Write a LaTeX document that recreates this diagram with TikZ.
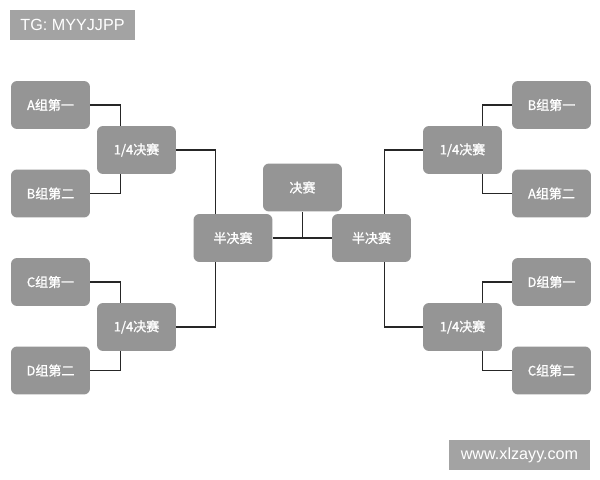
\documentclass[tikz,border=0pt]{standalone}
\usepackage{fontspec}
\setmainfont{Liberation Sans}
\newfontfamily\cjk[FakeBold=1.2]{Noto Sans CJK SC}
\usetikzlibrary{calc,positioning}
\definecolor{boxgray}{HTML}{959595}
\definecolor{taggray}{HTML}{A3A3A3}

\begin{document}
\begin{tikzpicture}[x=0.02cm,y=-0.02cm,
    team/.style={fill=boxgray,rounded corners=0.12cm,minimum width=1.58cm,minimum height=0.96cm,inner sep=0pt,text=white,font=\cjk\fontsize{7.4}{9}\selectfont},
    tag/.style={fill=taggray,inner sep=0pt,text=white,font=\fontsize{9.2}{11}\selectfont},
    link/.style={line width=0.7pt,black!85}]
       \useasboundingbox[fill=white] (0,0) rectangle (600,480);
       % watermarks
       \node[tag,minimum width=2.5cm,minimum height=0.6cm] (tg) at (72.5,25) {TG: MYYJJPP};
       \node[tag,minimum width=2.82cm,minimum height=0.6cm] (web) at (519.5,455) {www.xlzayy.com};
       % left half
       \node[team] (a1) at (50.5,105) {A组第一};
       \node[team] (b2) at (50.5,193.5) {B组第二};
       \node[team] (c1) at (50.5,282) {C组第一};
       \node[team] (d2) at (50.5,370.5) {D组第二};
       \node[team] (qa) at (136.5,150) {1/4决赛};
       \node[team] (qc) at (136.5,327) {1/4决赛};
       \node[team] (sl) at (233,238) {半决赛};
       % right half
       \node[team] (b1) at (551.5,105) {B组第一};
       \node[team] (a2) at (551.5,193.5) {A组第二};
       \node[team] (d1) at (551.5,282) {D组第一};
       \node[team] (c2) at (551.5,370.5) {C组第二};
       \node[team] (qb) at (462.5,150) {1/4决赛};
       \node[team] (qd) at (462.5,327) {1/4决赛};
       \node[team] (sr) at (371.5,238) {半决赛};
       % final
       \node[team] (fn) at (302.5,187.5) {决赛};
       % brackets
       \draw[link] (a1.east) -| ([xshift=0.48cm]qa.north west);
       \draw[link] (b2.east) -| ([xshift=0.48cm]qa.south west);
       \draw[link] (c1.east) -| ([xshift=0.48cm]qc.north west);
       \draw[link] (d2.east) -| ([xshift=0.48cm]qc.south west);
       \draw[link] (b1.west) -| ([xshift=-0.4cm]qb.north east);
       \draw[link] (a2.west) -| ([xshift=-0.4cm]qb.south east);
       \draw[link] (d1.west) -| ([xshift=-0.4cm]qd.north east);
       \draw[link] (c2.west) -| ([xshift=-0.4cm]qd.south east);
       \draw[link] (qa.east) -| ([xshift=0.44cm]sl.north west);
       \draw[link] (qc.east) -| ([xshift=0.44cm]sl.south west);
       \draw[link] (qb.west) -| ([xshift=-0.54cm]sr.north east);
       \draw[link] (qd.west) -| ([xshift=-0.54cm]sr.south east);
       \draw[link] (sl.east) -- (sr.west);
       \draw[link] (fn.south) -- (fn.south |- sl.east);
     \end{tikzpicture}
\end{document}
